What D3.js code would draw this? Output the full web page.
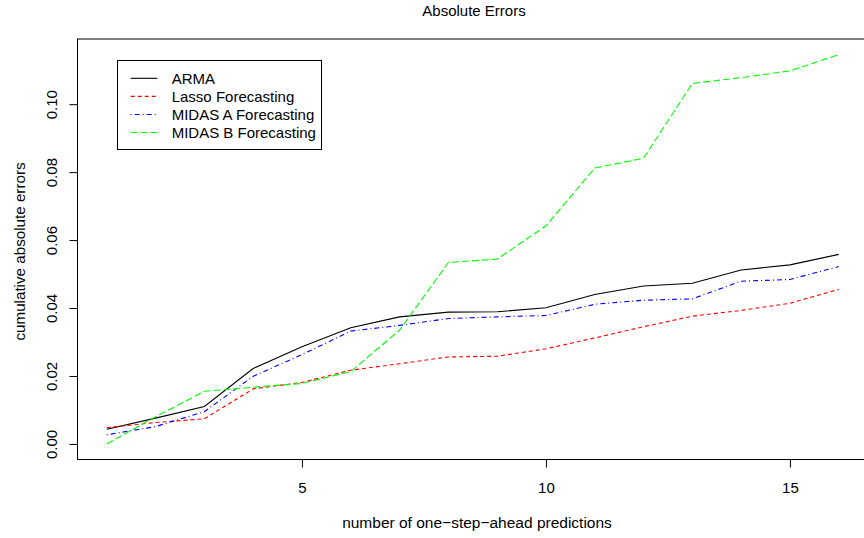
<!DOCTYPE html>
<html>
<head>
<meta charset="utf-8">
<script src="https://cdn.jsdelivr.net/npm/d3@7"></script>
<style>
  html, body { margin: 0; padding: 0; background: #fff; }
  svg { display: block; font-family: "Liberation Sans", Arial, Helvetica, sans-serif; }
</style>
</head>
<body>
<svg id="chart" width="864" height="538"></svg>
<script>
// ---- data ----
const steps = [1, 2, 3, 4, 5, 6, 7, 8, 9, 10, 11, 12, 13, 14, 15, 16];
const arma   = [0.0043, 0.0076, 0.0110, 0.0222, 0.0286, 0.0342, 0.0374, 0.0388, 0.0389, 0.0401, 0.0440, 0.0465, 0.0473, 0.0512, 0.0527, 0.0558];
const lasso  = [0.0048, 0.0063, 0.0074, 0.0162, 0.0181, 0.0217, 0.0236, 0.0256, 0.0258, 0.0280, 0.0312, 0.0345, 0.0376, 0.0393, 0.0414, 0.0455];
const midasA = [0.0027, 0.0051, 0.0095, 0.0199, 0.0263, 0.0332, 0.0349, 0.0369, 0.0374, 0.0378, 0.0411, 0.0423, 0.0427, 0.0479, 0.0484, 0.0522];
const midasB = [0.0000, 0.0080, 0.0155, 0.0167, 0.0178, 0.0213, 0.0335, 0.0534, 0.0544, 0.0642, 0.0812, 0.0841, 0.1061, 0.1078, 0.1098, 0.1146];
const seriesNames = ["ARMA", "Lasso Forecasting", "MIDAS A Forecasting", "MIDAS B Forecasting"];
const xTicks = [5, 10, 15];
const yTicks = [0.00, 0.02, 0.04, 0.06, 0.08, 0.10];
const titleText = "Absolute Errors";
const xLabel = "number of one\u2212step\u2212ahead predictions";
const yLabel = "cumulative absolute errors";

// ---- styles ----
const styles = [
  { color: "#000000", dash: null },
  { color: "#FF0000", dash: "4,3" },
  { color: "#0000FF", dash: "1,3,5,3" },
  { color: "#00FF00", dash: "7,3" }
];
const seriesValues = [arma, lasso, midasA, midasB];

const svg = d3.select("#chart");
const plot = { left: 77.5, right: 868, top: 39, bottom: 459.5 };

// R-style 4% padded domains
const xmin = d3.min(steps), xmax = d3.max(steps);
const allVals = seriesValues.flat();
const ymin = d3.min(allVals), ymax = d3.max(allVals);
const xpad = (xmax - xmin) * 0.04, ypad = (ymax - ymin) * 0.04;

const x = d3.scaleLinear().domain([xmin - xpad, xmax + xpad]).range([plot.left, plot.right]);
const y = d3.scaleLinear().domain([ymin - ypad, ymax + ypad]).range([plot.bottom, plot.top]);

// clip for lines
svg.append("defs").append("clipPath").attr("id", "clip")
  .append("rect").attr("x", plot.left).attr("y", plot.top)
  .attr("width", plot.right - plot.left).attr("height", plot.bottom - plot.top);

// lines
const line = d3.line().x((d, i) => x(steps[i])).y(d => y(d));
seriesValues.forEach((vals, k) => {
  svg.append("path")
    .attr("d", line(vals))
    .attr("fill", "none")
    .attr("stroke", styles[k].color)
    .attr("stroke-width", 1.1)
    .attr("stroke-dasharray", styles[k].dash)
    .attr("clip-path", "url(#clip)");
});

// box
svg.append("rect")
  .attr("x", plot.left).attr("y", plot.top)
  .attr("width", plot.right - plot.left).attr("height", plot.bottom - plot.top)
  .attr("fill", "none").attr("stroke", "#000").attr("stroke-width", 1);

// x axis
const xAxis = d3.axisBottom(x).tickValues(xTicks).tickSize(8).tickPadding(5).tickFormat(d3.format("d"));
const gx = svg.append("g").attr("transform", `translate(0,${plot.bottom})`).call(xAxis);
gx.attr("font-size", null).attr("font-family", null);
gx.select(".domain").remove();
gx.selectAll("text").style("font-size", "15px").attr("fill", "#000")
  .attr("dy", null).attr("y", 33);
gx.selectAll("line").attr("stroke", "#000");

// y axis
const yAxis = d3.axisLeft(y).tickValues(yTicks).tickSize(8).tickFormat(d3.format(".2f"));
const gy = svg.append("g").attr("transform", `translate(${plot.left},0)`).call(yAxis);
gy.attr("font-size", null).attr("font-family", null);
gy.select(".domain").remove();
gy.selectAll("line").attr("stroke", "#000");
gy.selectAll("text")
  .style("font-size", "15px").attr("fill", "#000")
  .attr("x", null).attr("dy", null)
  .attr("text-anchor", "middle")
  .attr("transform", `translate(${56.5 - plot.left},0) rotate(-90)`);

// title
svg.append("text")
  .attr("x", 474).attr("y", 16)
  .attr("text-anchor", "middle").style("font-size", "15px").text(titleText);

// axis labels
svg.append("text")
  .attr("x", 477).attr("y", 528)
  .attr("text-anchor", "middle").style("font-size", "15.5px").text(xLabel);
svg.append("text")
  .attr("transform", `translate(25,251.5) rotate(-90)`)
  .attr("text-anchor", "middle").style("font-size", "15.2px").text(yLabel);

// legend
const leg = svg.append("g");
leg.append("rect").attr("x", 117.5).attr("y", 60.5).attr("width", 204).attr("height", 89)
  .attr("fill", "#fff").attr("stroke", "#000").attr("stroke-width", 1);
const rowY = d3.scalePoint().domain(seriesNames).range([78.3, 132.5]);
seriesNames.forEach((name, k) => {
  leg.append("line")
    .attr("x1", 130.7).attr("x2", 157.3)
    .attr("y1", rowY(name)).attr("y2", rowY(name))
    .attr("stroke", styles[k].color).attr("stroke-width", 1.1)
    .attr("stroke-dasharray", styles[k].dash);
  leg.append("text")
    .attr("x", 171.7).attr("y", rowY(name)).attr("dy", "0.36em")
    .style("font-size", "15px").text(name);
});
</script>
</body>
</html>
